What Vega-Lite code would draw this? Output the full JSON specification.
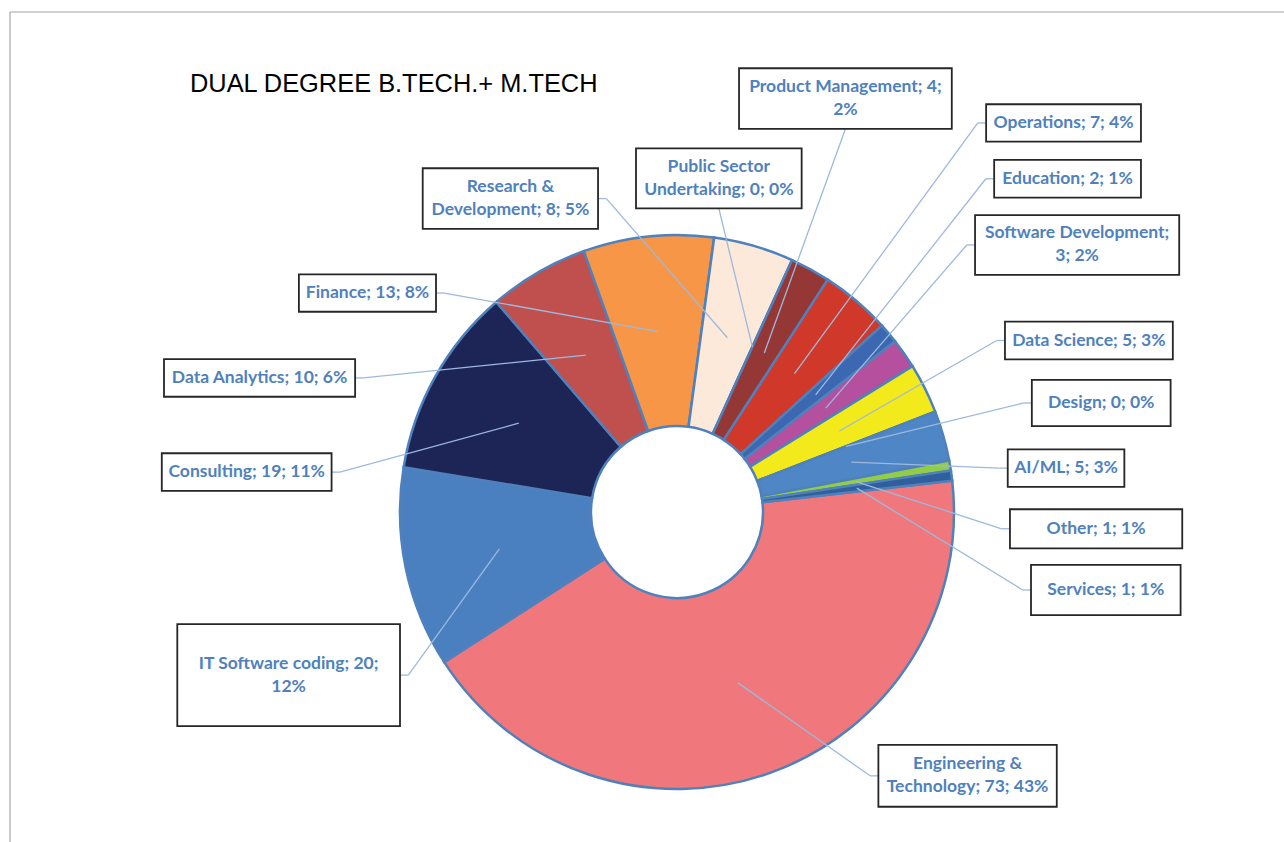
{
  "$schema": "https://vega.github.io/schema/vega-lite/v6.json",
  "width": 1274,
  "height": 830,
  "autosize": {"type": "none"},
  "padding": {"left": 10, "top": 12, "right": 0, "bottom": 0},
  "background": "white",
  "config": {"view": {"stroke": null}},
  "datasets": {
    "callouts": [
      {"name": "Engineering & Technology", "u1": 0.727, "u2": 1.371, "v1": -0.841, "v2": -1.064, "side": "left", "wrap": 2},
      {"name": "IT Software coding", "u1": -1.804, "u2": -1.0, "v1": -0.405, "v2": -0.773, "side": "right", "wrap": 4},
      {"name": "Consulting", "u1": -1.86, "u2": -1.247, "v1": 0.212, "v2": 0.076, "side": "right", "wrap": 0},
      {"name": "Data Analytics", "u1": -1.852, "u2": -1.162, "v1": 0.552, "v2": 0.416, "side": "right", "wrap": 0},
      {"name": "Finance", "u1": -1.365, "u2": -0.87, "v1": 0.858, "v2": 0.723, "side": "right", "wrap": 0},
      {"name": "Research & Development", "u1": -0.918, "u2": -0.285, "v1": 1.241, "v2": 1.022, "side": "right", "wrap": 2},
      {"name": "Public Sector Undertaking", "u1": -0.148, "u2": 0.45, "v1": 1.313, "v2": 1.096, "side": "bottom", "wrap": 2},
      {"name": "Product Management", "u1": 0.224, "u2": 0.992, "v1": 1.602, "v2": 1.383, "side": "bottom", "wrap": 3},
      {"name": "Operations", "u1": 1.116, "u2": 1.675, "v1": 1.472, "v2": 1.337, "side": "left", "wrap": 0},
      {"name": "Education", "u1": 1.145, "u2": 1.675, "v1": 1.271, "v2": 1.135, "side": "left", "wrap": 0},
      {"name": "Software Development", "u1": 1.076, "u2": 1.813, "v1": 1.072, "v2": 0.856, "side": "left", "wrap": 2},
      {"name": "Data Science", "u1": 1.184, "u2": 1.79, "v1": 0.687, "v2": 0.551, "side": "left", "wrap": 0},
      {"name": "Design", "u1": 1.281, "u2": 1.782, "v1": 0.477, "v2": 0.31, "side": "left", "wrap": 0},
      {"name": "AI/ML", "u1": 1.194, "u2": 1.615, "v1": 0.226, "v2": 0.091, "side": "left", "wrap": 0},
      {"name": "Other", "u1": 1.202, "u2": 1.824, "v1": 0.01, "v2": -0.131, "side": "left", "wrap": 0},
      {"name": "Services", "u1": 1.278, "u2": 1.818, "v1": -0.191, "v2": -0.372, "side": "left", "wrap": 0}
    ]
  },
  "data": {
    "values": [
      {"k": 1, "name": "Engineering & Technology", "n": 73},
      {"k": 2, "name": "IT Software coding", "n": 20},
      {"k": 3, "name": "Consulting", "n": 19},
      {"k": 4, "name": "Data Analytics", "n": 10},
      {"k": 5, "name": "Finance", "n": 13},
      {"k": 6, "name": "Research & Development", "n": 8},
      {"k": 7, "name": "Public Sector Undertaking", "n": 0},
      {"k": 8, "name": "Product Management", "n": 4},
      {"k": 9, "name": "Operations", "n": 7},
      {"k": 10, "name": "Education", "n": 2},
      {"k": 11, "name": "Software Development", "n": 3},
      {"k": 12, "name": "Data Science", "n": 5},
      {"k": 13, "name": "Design", "n": 0},
      {"k": 14, "name": "AI/ML", "n": 5},
      {"k": 15, "name": "Other", "n": 1},
      {"k": 16, "name": "Services", "n": 1}
    ]
  },
  "transform": [
    {"joinaggregate": [{"op": "sum", "field": "n", "as": "total"}]},
    {"window": [{"op": "sum", "field": "n", "as": "cum"}], "sort": [{"field": "k", "order": "ascending"}], "frame": [null, 0]},
    {"calculate": "1.45735 + 2*PI*(datum.cum - datum.n/2)/datum.total", "as": "mid"},
    {"calculate": "0.655*sin(datum.mid)", "as": "px"},
    {"calculate": "0.655*cos(datum.mid)", "as": "py"},
    {"calculate": "datum.name + '; ' + datum.n + '; ' + round(100*datum.n/datum.total) + '%'", "as": "label"},
    {"lookup": "name", "from": {"data": {"name": "callouts"}, "key": "name", "fields": ["u1", "u2", "v1", "v2", "side", "wrap"]}},
    {"calculate": "datum.wrap > 0 ? [join(slice(split(datum.label,' '),0,datum.wrap),' '), join(slice(split(datum.label,' '),datum.wrap),' ')] : datum.label", "as": "lines"},
    {"calculate": "datum.side === 'left' ? datum.u1 : (datum.side === 'right' ? datum.u2 : (datum.u1+datum.u2)/2)", "as": "ax"},
    {"calculate": "datum.side === 'bottom' ? datum.v2 : (datum.v1+datum.v2)/2", "as": "ay"},
    {"calculate": "datum.side === 'left' ? datum.ax - 0.03 : (datum.side === 'right' ? datum.ax + 0.03 : datum.ax)", "as": "ex"},
    {"calculate": "(datum.u1+datum.u2)/2", "as": "cx"},
    {"calculate": "(datum.v1+datum.v2)/2 + (datum.wrap > 0 ? 0.0415 : 0)", "as": "cy"}
  ],
  "layer": [
    {
      "data": {"values": [{}]},
      "mark": {"type": "rule", "stroke": "#A6A6A6", "strokeWidth": 1.2},
      "encoding": {
        "x": {"datum": -2.40794, "type": "quantitative", "scale": {"domain": [-2.40794, 2.19134], "nice": false, "zero": false}, "axis": null},
        "x2": {"datum": 2.19134},
        "y": {"datum": 1.80505, "type": "quantitative", "scale": {"domain": [-1.19134, 1.80505], "nice": false, "zero": false}, "axis": null}
      }
    },
    {
      "data": {"values": [{}]},
      "mark": {"type": "rule", "stroke": "#A6A6A6", "strokeWidth": 1.2},
      "encoding": {
        "x": {"datum": -2.40794, "type": "quantitative", "scale": {"domain": [-2.40794, 2.19134], "nice": false, "zero": false}, "axis": null},
        "y": {"datum": -1.19134, "type": "quantitative", "scale": {"domain": [-1.19134, 1.80505], "nice": false, "zero": false}, "axis": null},
        "y2": {"datum": 1.80505}
      }
    },
    {
      "mark": {"type": "arc", "outerRadius": 277, "innerRadius": 86, "stroke": "#4F81BD", "strokeWidth": 2.5},
      "encoding": {
        "x": {"datum": 0, "type": "quantitative", "scale": {"domain": [-2.40794, 2.19134], "nice": false, "zero": false}, "axis": null},
        "y": {"datum": 0, "type": "quantitative", "scale": {"domain": [-1.19134, 1.80505], "nice": false, "zero": false}, "axis": null},
        "theta": {"field": "n", "type": "quantitative", "stack": true, "scale": {"range": [1.45735, 7.74054]}},
        "order": {"field": "k", "type": "quantitative", "sort": "ascending"},
        "color": {
          "field": "name",
          "type": "nominal",
          "legend": null,
          "scale": {
            "domain": ["Engineering & Technology", "IT Software coding", "Consulting", "Data Analytics", "Finance", "Research & Development", "Public Sector Undertaking", "Product Management", "Operations", "Education", "Software Development", "Data Science", "Design", "AI/ML", "Other", "Services"],
            "range": ["#F0787C", "#4A80C0", "#1D2557", "#C0504D", "#F79646", "#FDE9D9", "#F2DCDB", "#953735", "#D0382A", "#3B68B0", "#B4509E", "#F2EA1A", "#4BACC6", "#4F86C6", "#92CD48", "#30609C"]
          }
        }
      }
    },
    {
      "mark": {"type": "rule", "stroke": "#9DB9DE", "strokeWidth": 1.3},
      "encoding": {
        "x": {"field": "ax", "type": "quantitative", "scale": {"domain": [-2.40794, 2.19134], "nice": false, "zero": false}, "axis": null},
        "x2": {"field": "ex"},
        "y": {"field": "ay", "type": "quantitative", "scale": {"domain": [-1.19134, 1.80505], "nice": false, "zero": false}, "axis": null},
        "y2": {"field": "ay"}
      }
    },
    {
      "mark": {"type": "rule", "stroke": "#9DB9DE", "strokeWidth": 1.3},
      "encoding": {
        "x": {"field": "ex", "type": "quantitative", "scale": {"domain": [-2.40794, 2.19134], "nice": false, "zero": false}, "axis": null},
        "x2": {"field": "px"},
        "y": {"field": "ay", "type": "quantitative", "scale": {"domain": [-1.19134, 1.80505], "nice": false, "zero": false}, "axis": null},
        "y2": {"field": "py"}
      }
    },
    {
      "mark": {"type": "rect", "fill": "white", "stroke": "#262626", "strokeWidth": 1.8},
      "encoding": {
        "x": {"field": "u1", "type": "quantitative", "scale": {"domain": [-2.40794, 2.19134], "nice": false, "zero": false}, "axis": null},
        "x2": {"field": "u2"},
        "y": {"field": "v1", "type": "quantitative", "scale": {"domain": [-1.19134, 1.80505], "nice": false, "zero": false}, "axis": null},
        "y2": {"field": "v2"}
      }
    },
    {
      "mark": {"type": "text", "font": "Lato", "fontWeight": "bold", "fontSize": 17.5, "fill": "#4F81BD", "align": "center", "baseline": "middle", "lineHeight": 23},
      "encoding": {
        "x": {"field": "cx", "type": "quantitative", "scale": {"domain": [-2.40794, 2.19134], "nice": false, "zero": false}, "axis": null},
        "y": {"field": "cy", "type": "quantitative", "scale": {"domain": [-1.19134, 1.80505], "nice": false, "zero": false}, "axis": null},
        "text": {"field": "lines", "type": "nominal"}
      }
    },
    {
      "data": {"values": [{"t": "DUAL DEGREE B.TECH.+ M.TECH"}]},
      "mark": {"type": "text", "font": "Liberation Sans", "fontSize": 25.4, "fill": "#000000", "align": "left", "baseline": "alphabetic"},
      "encoding": {
        "x": {"datum": -1.7581, "type": "quantitative", "scale": {"domain": [-2.40794, 2.19134], "nice": false, "zero": false}, "axis": null},
        "y": {"datum": 1.5162, "type": "quantitative", "scale": {"domain": [-1.19134, 1.80505], "nice": false, "zero": false}, "axis": null},
        "text": {"field": "t", "type": "nominal"}
      }
    }
  ]
}
